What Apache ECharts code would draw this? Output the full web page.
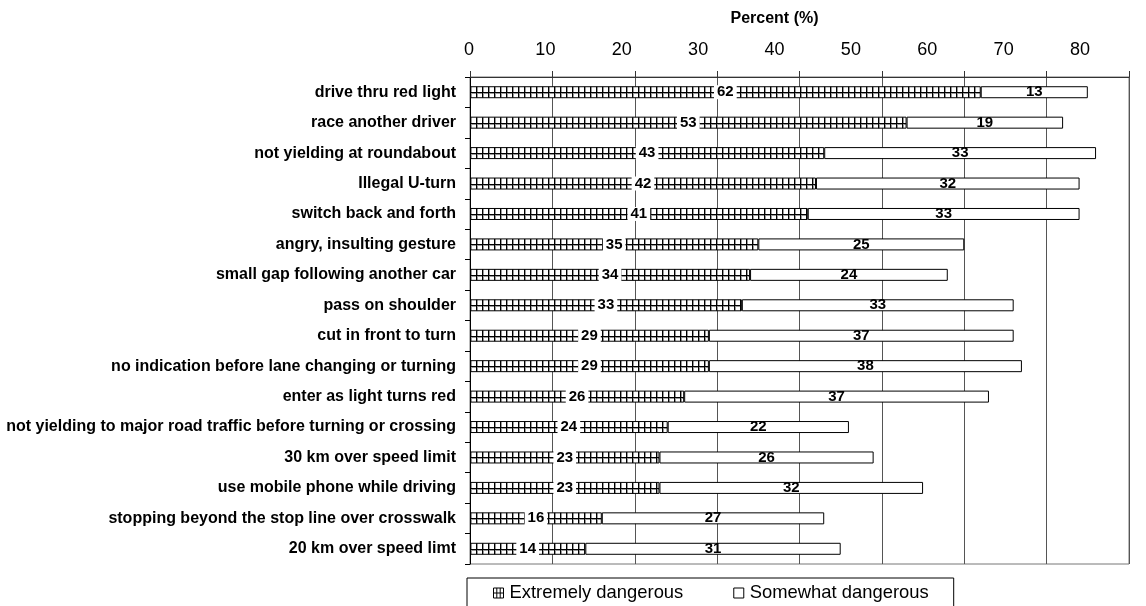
<!DOCTYPE html>
<html>
<head>
<meta charset="utf-8">
<script src="https://cdn.jsdelivr.net/npm/echarts@6/dist/echarts.min.js"></script>
<style>
  html, body { margin: 0; padding: 0; background: #fff; }
  #chart { width: 1146px; height: 606px; }
</style>
</head>
<body>
<div id="chart"></div>
<script>
// Categories, top to bottom
const categories = [
  'drive thru red light',
  'race another driver',
  'not yielding at roundabout',
  'Illegal U-turn',
  'switch back and forth',
  'angry, insulting gesture',
  'small gap following another car',
  'pass on shoulder',
  'cut in front to turn',
  'no indication before lane changing or turning',
  'enter as light turns red',
  'not yielding to major road traffic before turning or crossing',
  '30 km over speed limit',
  'use mobile phone while driving',
  'stopping beyond the stop line over crosswalk',
  '20 km over speed limt'
];

// Percent of respondents
const extremelyDangerous = [62, 53, 43, 42, 41, 35, 34, 33, 29, 29, 26, 24, 23, 23, 16, 14];
const somewhatDangerous  = [13, 19, 33, 32, 33, 25, 24, 33, 37, 38, 37, 22, 26, 32, 27, 31];

// Percent axis ticks
const percentTicks = [0, 10, 20, 30, 40, 50, 60, 70, 80];

const FONT = "'Liberation Sans', Arial, sans-serif";
const axisMin = percentTicks[0];
const axisMax = percentTicks[percentTicks.length - 1];
const axisStep = percentTicks[1] - percentTicks[0];

// Grid tile for the "Extremely dangerous" fill: a vertical rule every 6px
// and one horizontal rule per 12px (the bar's mid-line once offset).
function gridTile() {
  const c = document.createElement('canvas');
  c.width = 6; c.height = 12;
  const g = c.getContext('2d');
  g.fillStyle = '#fff';
  g.fillRect(0, 0, 6, 12);
  g.fillStyle = '#999';
  g.fillRect(1, 0, 1, 12);
  g.fillRect(0, 1, 6, 1);
  g.fillStyle = '#000';
  g.fillRect(0, 0, 1, 12);
  g.fillRect(0, 0, 6, 1);
  return c;
}
const tile = gridTile();

const chart = echarts.init(document.getElementById('chart'), null, { renderer: 'canvas' });

const labelBase = {
  show: true,
  position: 'inside',
  formatter: '{c}',
  fontSize: 15,
  fontWeight: 'bold',
  color: '#000',
  fontFamily: FONT
};

chart.setOption({
  animation: false,
  backgroundColor: '#fff',
  textStyle: { fontFamily: FONT, color: '#000' },
  grid: [
    { left: 470, right: 17, top: 77, bottom: 42, show: true, borderColor: '#777', borderWidth: 1 },
    // grid carrying the percent tick labels and the axis title
    { left: 469, right: 66, top: 77, bottom: 42 }
  ],
  legend: {
    left: 467,
    top: 578,
    padding: [6, 25, 20, 26],
    borderColor: '#000',
    borderWidth: 1,
    itemGap: 50,
    itemWidth: 10,
    itemHeight: 10,
    textStyle: { fontFamily: FONT, fontSize: 18.4, color: '#000', padding: [0, 0, 0, 1] },
    data: [
      {
        name: 'Extremely dangerous',
        icon: 'path://M0,0H10V10H0ZM3.3,0V10M6.7,0V10M0,5H10',
        itemStyle: { color: '#fff', borderColor: '#000', borderWidth: 1 }
      },
      {
        name: 'Somewhat dangerous',
        icon: 'rect',
        itemStyle: { color: '#fff', borderColor: '#000', borderWidth: 1 }
      }
    ]
  },
  xAxis: [
    {
      gridIndex: 0,
      type: 'value',
      position: 'top',
      min: axisMin,
      max: axisMax,
      interval: axisStep,
      axisLine: { show: true, lineStyle: { color: '#333', width: 1 } },
      axisTick: { show: true, length: 6, lineStyle: { color: '#333' } },
      axisLabel: { show: false },
      splitLine: { show: true, lineStyle: { color: '#555', width: 1 } }
    },
    {
      gridIndex: 1,
      type: 'value',
      position: 'top',
      min: axisMin,
      max: axisMax,
      interval: axisStep,
      name: 'Percent (%)',
      nameLocation: 'middle',
      nameGap: 50,
      nameTextStyle: { fontFamily: FONT, fontSize: 16, fontWeight: 'bold', color: '#000' },
      axisLine: { show: false },
      axisTick: { show: false },
      splitLine: { show: false },
      axisLabel: { show: true, fontSize: 18, color: '#000', fontFamily: FONT, margin: 18 }
    }
  ],
  yAxis: [
    {
      gridIndex: 0,
      type: 'category',
      inverse: true,
      data: categories,
      axisLine: { show: true, lineStyle: { color: '#000', width: 1 } },
      axisTick: { show: true, length: 5, lineStyle: { color: '#000' } },
      axisLabel: { fontSize: 16, fontWeight: 'bold', color: '#000', fontFamily: FONT, margin: 14 }
    },
    { gridIndex: 1, type: 'value', show: false }
  ],
  series: [
    {
      name: 'Extremely dangerous',
      type: 'bar',
      stack: 'total',
      xAxisIndex: 0,
      yAxisIndex: 0,
      barWidth: 12,
      data: extremelyDangerous,
      itemStyle: { color: { image: tile, repeat: 'repeat' }, borderColor: '#000', borderWidth: 1 },
      label: Object.assign({}, labelBase, {
        backgroundColor: '#fff',
        lineHeight: 14,
        padding: [0, 3]
      })
    },
    {
      name: 'Somewhat dangerous',
      type: 'bar',
      stack: 'total',
      xAxisIndex: 0,
      yAxisIndex: 0,
      barWidth: 12,
      data: somewhatDangerous,
      itemStyle: { color: '#fff', borderColor: '#000', borderWidth: 1 },
      label: Object.assign({}, labelBase)
    }
  ]
});

// Anchor each bar's grid fill to its own row so the horizontal rule runs
// along the bar's middle and the vertical rules start at the zero line.
const x0 = chart.convertToPixel({ xAxisIndex: 0 }, axisMin);
chart.setOption({
  series: [{
    name: 'Extremely dangerous',
    data: extremelyDangerous.map((v, i) => {
      const yc = chart.convertToPixel({ yAxisIndex: 0 }, categories[i]);
      return {
        value: v,
        itemStyle: {
          color: { image: tile, repeat: 'repeat', x: Math.round(x0), y: Math.round(yc) }
        }
      };
    })
  }]
});
</script>
</body>
</html>
